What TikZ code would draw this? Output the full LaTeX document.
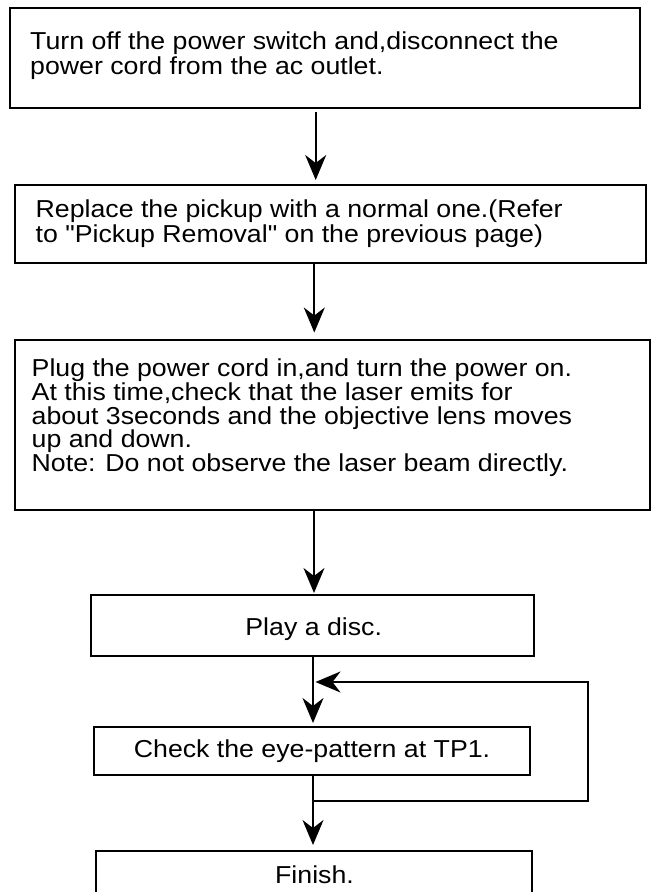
\documentclass[tikz,border=0pt]{standalone}
\usepackage{fontspec}
\setmainfont{Liberation Sans}[FakeStretch=1.09, Ligatures=TeXOff]
\usetikzlibrary{arrows.meta}
\tikzset{
  stepbox/.style={draw=black, line width=2pt, rectangle, inner sep=0pt, anchor=north west},
  steptext/.style={inner sep=0pt, align=left, anchor=base west, font=\fontsize{24.5}{25}\selectfont},
  midtext/.style={inner sep=0pt, anchor=base, font=\fontsize{24.5}{25}\selectfont},
  conn/.style={line width=2pt, draw=black},
  arr/.style={conn, -{Stealth[length=25pt, width=21pt, inset=8pt]}}
}
\begin{document}
\begin{tikzpicture}[x=1pt, y=-1pt]
\useasboundingbox[fill=white] (0,0) rectangle (651,892);
% boxes
\node[stepbox, minimum width=630pt, minimum height=100pt] (b1) at (9,7) {};
\node[stepbox, minimum width=631pt, minimum height=78pt] (b2) at (14,184) {};
\node[stepbox, minimum width=635pt, minimum height=170pt] (b3) at (14,339) {};
\node[stepbox, minimum width=443pt, minimum height=61pt] (b4) at (90,594) {};
\node[stepbox, minimum width=436pt, minimum height=48pt] (b5) at (93,726) {};
\node[stepbox, minimum width=436pt, minimum height=60pt] (b6) at (95,850) {};
% texts (base anchor = baseline of the last line)
\node[steptext] (t1) at (30,74.3) {Turn off the power switch and,disconnect the\\power cord from the ac outlet.};
\node[steptext, font=\fontsize{24.5}{25.5}\selectfont] (t2) at (35.5,242.8) {Replace the pickup with a normal one.(Refer\\to "Pickup Removal" on the previous page)};
\node[steptext, font=\fontsize{24.5}{23.75}\selectfont] (t3) at (31.5,471.7) {Plug the power cord in,and turn the power on.\\At this time,check that the laser emits for\\about 3seconds and the objective lens moves\\up and down.\\Note: Do not observe the laser beam directly.};
\node[midtext] (t4) at (313.7,635) {Play a disc.};
\node[midtext] (t5) at (312,757) {Check the eye-pattern at TP1.};
\node[midtext] (t6) at (314.5,883) {Finish.};
% connector columns
\coordinate (xa) at (315.7,0);
\coordinate (xb) at (314.3,0);
\coordinate (xc) at (314,0);
\coordinate (xd) at (313,0);
\coordinate (loopR) at (588,801);
\coordinate (loopT) at (588,682);
\coordinate (junc) at (313,801);
\coordinate (entry) at (313,682);
% connectors
\draw[arr, shorten <=3pt, shorten >=4pt] (b1.south -| xa) -- (b2.north -| xa);
\draw[arr, shorten >=6.5pt] (b2.south -| xb) -- (b3.north -| xb);
\draw[arr, shorten >=1pt] (b3.south -| xc) -- (b4.north -| xc);
\draw[arr, shorten >=3pt] (b4.south -| xd) -- (b5.north -| xd);
\draw[arr, shorten >=5pt] (b5.south -| xd) -- (b6.north -| xd);
\draw[arr, shorten >=2.5pt] (junc) -- (loopR) -- (loopT) -- (entry);
\end{tikzpicture}
\end{document}
